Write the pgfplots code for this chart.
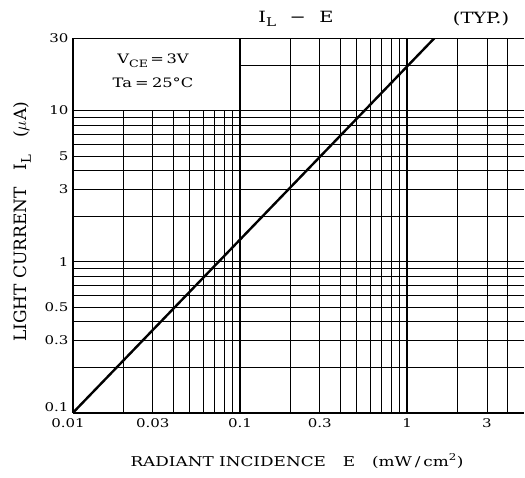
\documentclass[border=0pt]{standalone}
\usepackage{fontspec}
\setmainfont{DejaVu Serif}
\usepackage{graphicx}
\usepackage{pgfplots}
\pgfplotsset{compat=1.18}
\newcommand{\hs}[1]{\scalebox{1.25}[1]{#1}}
\newcommand{\sub}[1]{\raisebox{-0.28em}{\scalebox{0.78}{#1}}}
\begin{document}
\begin{tikzpicture}[x=1pt,y=1pt]
\useasboundingbox (0,0) rectangle (525,477);
\begin{axis}[
  at={(73pt,64.3pt)}, anchor=south west,
  scale only axis, width=451pt, height=374.3pt,
  xmode=log, ymode=log,
  xmin=0.01, xmax=5, ymin=0.1, ymax=30,
  axis line style={draw=none},
  major tick length=0pt, minor tick length=0pt,
  xtick={0.03,0.1,0.3,1,3},
  xticklabels={\hs{0.03},\hs{0.1},\hs{0.3},\hs{1},\hs{3}},
  ytick={0.3,0.5,1,3,5,10,30},
  yticklabels={\hs{0.3},\hs{0.5},\hs{1},\hs{3},\hs{5},\hs{10},\hs{30}},
  minor xtick={0.02,0.03,0.04,0.05,0.06,0.07,0.08,0.09,0.2,0.3,0.4,0.5,0.6,0.7,0.8,0.9,2,3,4},
  minor ytick={0.2,0.3,0.4,0.5,0.6,0.7,0.8,0.9,2,3,4,5,6,7,8,9,20},
  xminorgrids=true, yminorgrids=true,
  minor grid style={black, line width=0.8pt},
  extra x ticks={0.01,0.1,1}, extra x tick labels={\hs{0.01},,},
  extra y ticks={0.1,1,10}, extra y tick labels={\hs{0.1},,},
  extra tick style={grid=major, major grid style={black, line width=1.6pt},
     xticklabel style={xshift=-5pt}, yticklabel style={yshift=6pt}},
  tick label style={font=\fontsize{12}{14}\selectfont},
  xticklabel style={yshift=-2.5pt},
  yticklabel style={xshift=-1pt},
]
\fill[white] (axis cs:0.01,10) rectangle (axis cs:0.1,30);
\draw[line width=1.6pt] (axis cs:0.01,10) -- (axis cs:0.1,10) -- (axis cs:0.1,30);
\addplot[black, line width=2.4pt] coordinates {(0.01,0.1) (1.45,30)};
\draw[line width=2pt] (rel axis cs:1,1) -| (rel axis cs:0,0) -- (rel axis cs:1,0);
\end{axis}
\node[font=\fontsize{15.5}{18}\selectfont] at (296,458) {\hs{I\sub{L}\hspace{0.7em}−\hspace{0.7em}E}};
\node[font=\fontsize{15.5}{18}\selectfont] at (481,458) {\hs{(TYP.)}};
\node[font=\fontsize{13}{15}\selectfont] at (153,416) {\hs{V\sub{CE}\hspace{0.15em}=\hspace{0.15em}3V}};
\node[font=\fontsize{13}{15}\selectfont] at (153,394) {\hs{Ta\hspace{0.2em}=\hspace{0.2em}25\textdegree C}};
\node[font=\fontsize{13.5}{16}\selectfont] at (297,16) {\hs{RADIANT INCIDENCE\quad E\quad (mW\,/\,cm\textsuperscript{2})}};
\node[rotate=90, font=\fontsize{17}{20}\selectfont] at (22,255) {LIGHT CURRENT\quad I\sub{L}\quad ($\mu$A)};
\end{tikzpicture}
\end{document}
